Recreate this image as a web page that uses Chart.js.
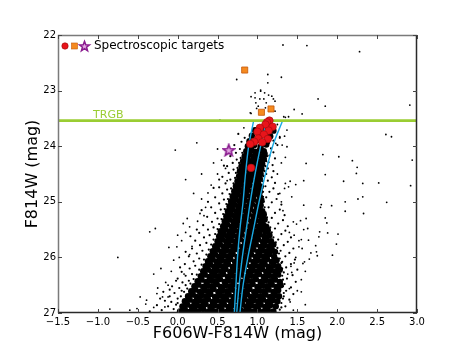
<!DOCTYPE html>
<html>
<head>
<meta charset="utf-8">
<script src="https://cdn.jsdelivr.net/npm/chart.js@4.4.0/dist/chart.umd.min.js"></script>
<style>
    body { margin: 0; background: #fff; }
    #wrap { width: 463px; height: 348px; }
</style>
</head>
<body>
<div id="wrap"><canvas id="myChart" width="463" height="348"></canvas></div>
<script>
// tick values
var x_ticks = [-1.5, -1.0, -0.5, 0.0, 0.5, 1.0, 1.5, 2.0, 2.5, 3.0];
var y_ticks = [22, 23, 24, 25, 26, 27];
var trgb_mag = 23.54;

// spectroscopic targets (colour, mag)
var rgb_targets = [[1.15, 23.54], [1.12, 23.57], [1.10, 23.61], [1.19, 23.65], [1.03, 23.67], [1.14, 23.72], [1.00, 23.74],
    [1.08, 23.79], [1.13, 23.87], [1.01, 23.86], [0.96, 23.92], [1.06, 23.93], [0.91, 23.96], [0.92, 24.39]];
var agb_targets = [[0.84, 22.63], [1.05, 23.39], [1.17, 23.33]];
var star_target = [[0.64, 24.07]];

// the three blue lines
var iso_mag = [27.0, 26.5, 26.0, 25.5, 25.0, 24.5, 24.0, 23.56];
var iso_1 = [0.71, 0.73, 0.75, 0.78, 0.82, 0.85, 0.89, 0.95];
var iso_2 = [0.74, 0.77, 0.81, 0.86, 0.91, 0.97, 1.04, 1.11];
var iso_3 = [0.78, 0.82, 0.88, 0.95, 1.02, 1.10, 1.19, 1.31];

// photometry: the dense part of the CMD
var core_stars = [
    [0.03,26.97],[0.09,26.94],[0.15,26.98],[0.21,26.95],[0.26,26.97],[0.32,26.93],[0.38,26.98],[0.43,26.95],[0.49,26.97],[0.55,26.94],[0.61,26.98],[0.66,26.95],[0.72,26.97],[0.78,26.93],[0.83,26.98],[0.89,26.95],[0.95,26.97],[1.01,26.94],[1.07,26.98],[1.13,26.95],[1.2,26.97],
    [0.06,26.88],[0.12,26.85],[0.18,26.89],[0.24,26.86],[0.29,26.88],[0.35,26.84],[0.41,26.89],[0.46,26.86],[0.52,26.88],[0.58,26.85],[0.64,26.89],[0.69,26.86],[0.75,26.88],[0.81,26.84],[0.86,26.89],[0.92,26.86],[0.98,26.88],[1.04,26.85],[1.1,26.89],[1.16,26.86],[1.23,26.88],
    [0.09,26.79],[0.15,26.76],[0.21,26.8],[0.27,26.77],[0.32,26.79],[0.38,26.75],[0.44,26.8],[0.49,26.77],[0.55,26.79],[0.61,26.76],[0.67,26.8],[0.72,26.77],[0.78,26.79],[0.84,26.75],[0.89,26.8],[0.95,26.77],[1.01,26.79],[1.07,26.76],[1.13,26.8],[1.19,26.77],[1.25,26.79],
    [0.13,26.7],[0.19,26.67],[0.24,26.71],[0.3,26.68],[0.36,26.7],[0.41,26.66],[0.47,26.71],[0.53,26.68],[0.58,26.7],[0.64,26.67],[0.7,26.71],[0.75,26.68],[0.81,26.7],[0.87,26.66],[0.92,26.71],[0.98,26.68],[1.04,26.7],[1.1,26.67],[1.16,26.71],[1.22,26.68],[1.27,26.7],
    [0.17,26.61],[0.22,26.58],[0.28,26.62],[0.34,26.59],[0.39,26.61],[0.45,26.57],[0.51,26.62],[0.56,26.59],[0.62,26.61],[0.68,26.58],[0.73,26.62],[0.79,26.59],[0.85,26.61],[0.9,26.57],[0.96,26.62],[1.02,26.59],[1.08,26.61],[1.14,26.58],[1.2,26.62],[1.26,26.59],
    [0.21,26.52],[0.26,26.49],[0.32,26.53],[0.37,26.5],[0.43,26.52],[0.49,26.48],[0.54,26.53],[0.6,26.5],[0.66,26.52],[0.71,26.49],[0.77,26.53],[0.83,26.5],[0.88,26.52],[0.94,26.48],[1.0,26.53],[1.06,26.5],[1.12,26.52],[1.18,26.49],[1.24,26.53],[1.29,26.5],
    [0.25,26.43],[0.3,26.4],[0.36,26.44],[0.42,26.41],[0.47,26.43],[0.53,26.39],[0.59,26.44],[0.64,26.41],[0.7,26.43],[0.76,26.4],[0.81,26.44],[0.87,26.41],[0.93,26.43],[0.98,26.39],[1.04,26.44],[1.1,26.41],[1.16,26.43],[1.22,26.4],[1.28,26.44],
    [0.29,26.34],[0.34,26.31],[0.4,26.35],[0.46,26.32],[0.51,26.34],[0.57,26.3],[0.63,26.35],[0.68,26.32],[0.74,26.34],[0.8,26.31],[0.85,26.35],[0.91,26.32],[0.97,26.34],[1.02,26.3],[1.08,26.35],[1.14,26.32],[1.2,26.34],[1.26,26.31],
    [0.32,26.25],[0.38,26.22],[0.43,26.26],[0.49,26.23],[0.55,26.25],[0.6,26.21],[0.66,26.26],[0.72,26.23],[0.77,26.25],[0.83,26.22],[0.89,26.26],[0.94,26.23],[1.0,26.25],[1.06,26.21],[1.11,26.26],[1.17,26.23],[1.23,26.25],[1.28,26.22],
    [0.35,26.16],[0.41,26.13],[0.46,26.17],[0.52,26.14],[0.58,26.16],[0.63,26.12],[0.69,26.17],[0.75,26.14],[0.8,26.16],[0.86,26.13],[0.92,26.17],[0.97,26.14],[1.03,26.16],[1.09,26.12],[1.14,26.17],[1.2,26.14],[1.26,26.16],
    [0.38,26.07],[0.44,26.04],[0.49,26.08],[0.55,26.05],[0.61,26.07],[0.66,26.03],[0.72,26.08],[0.78,26.05],[0.83,26.07],[0.89,26.04],[0.95,26.08],[1.0,26.05],[1.06,26.07],[1.12,26.03],[1.18,26.08],[1.24,26.05],
    [0.41,25.98],[0.47,25.95],[0.52,25.99],[0.58,25.96],[0.64,25.98],[0.69,25.94],[0.75,25.99],[0.81,25.96],[0.86,25.98],[0.92,25.95],[0.98,25.99],[1.03,25.96],[1.09,25.98],[1.15,25.94],[1.21,25.99],
    [0.44,25.89],[0.5,25.86],[0.55,25.9],[0.61,25.87],[0.67,25.89],[0.72,25.85],[0.78,25.9],[0.84,25.87],[0.89,25.89],[0.95,25.86],[1.01,25.9],[1.06,25.87],[1.12,25.89],[1.18,25.86],[1.22,25.9],
    [0.47,25.8],[0.53,25.77],[0.58,25.81],[0.64,25.78],[0.7,25.8],[0.75,25.76],[0.81,25.81],[0.87,25.78],[0.92,25.8],[0.98,25.77],[1.04,25.81],[1.09,25.78],[1.15,25.8],[1.2,25.77],
    [0.5,25.71],[0.56,25.68],[0.61,25.72],[0.67,25.69],[0.73,25.71],[0.78,25.67],[0.84,25.72],[0.9,25.69],[0.95,25.71],[1.01,25.68],[1.07,25.72],[1.12,25.69],[1.17,25.71],
    [0.52,25.62],[0.58,25.59],[0.63,25.63],[0.69,25.6],[0.75,25.62],[0.8,25.58],[0.86,25.63],[0.92,25.6],[0.97,25.62],[1.03,25.59],[1.09,25.63],[1.15,25.6],
    [0.54,25.53],[0.6,25.5],[0.65,25.54],[0.71,25.51],[0.77,25.53],[0.82,25.49],[0.88,25.54],[0.94,25.51],[0.99,25.53],[1.05,25.5],[1.1,25.54],[1.13,25.51],
    [0.57,25.44],[0.62,25.41],[0.68,25.45],[0.74,25.42],[0.79,25.44],[0.85,25.4],[0.91,25.45],[0.96,25.42],[1.02,25.44],[1.07,25.41],[1.11,25.45],
    [0.59,25.35],[0.65,25.32],[0.7,25.36],[0.76,25.33],[0.82,25.35],[0.87,25.31],[0.93,25.36],[0.98,25.33],[1.04,25.35],[1.09,25.32],
    [0.61,25.26],[0.67,25.23],[0.72,25.27],[0.78,25.24],[0.84,25.26],[0.89,25.22],[0.95,25.27],[1.0,25.24],[1.05,25.26],[1.08,25.23],
    [0.63,25.17],[0.69,25.14],[0.74,25.18],[0.8,25.15],[0.86,25.17],[0.91,25.13],[0.97,25.18],[1.02,25.15],[1.06,25.17],
    [0.65,25.08],[0.71,25.05],[0.76,25.09],[0.82,25.06],[0.88,25.08],[0.93,25.04],[0.99,25.09],[1.04,25.06],
    [0.67,24.99],[0.73,24.96],[0.78,25.0],[0.84,24.97],[0.9,24.99],[0.95,24.95],[1.01,25.0],[1.05,24.97],
    [0.69,24.9],[0.75,24.87],[0.8,24.91],[0.86,24.88],[0.92,24.9],[0.97,24.86],[1.03,24.91],
    [0.71,24.81],[0.77,24.78],[0.82,24.82],[0.88,24.79],[0.94,24.81],[0.99,24.77],[1.03,24.82],
    [0.73,24.72],[0.79,24.69],[0.84,24.73],[0.9,24.7],[0.96,24.72],[1.01,24.68],[1.04,24.73],
    [0.75,24.63],[0.81,24.6],[0.86,24.64],[0.92,24.61],[0.98,24.63],[1.03,24.59],
    [0.77,24.54],[0.83,24.51],[0.88,24.55],[0.94,24.52],[1.0,24.54],[1.04,24.5],
    [0.78,24.45],[0.84,24.42],[0.9,24.46],[0.95,24.43],[1.01,24.45],[1.05,24.41],
    [0.8,24.36],[0.86,24.33],[0.91,24.37],[0.97,24.34],[1.02,24.36],[1.06,24.32],
    [0.82,24.27],[0.88,24.24],[0.93,24.28],[0.99,24.25],[1.04,24.27],[1.08,24.23],
    [0.84,24.18],[0.9,24.15],[0.95,24.19],[1.01,24.16],[1.06,24.18],[1.09,24.14],
    [0.86,24.09],[0.92,24.06],[0.97,24.1],[1.03,24.07],[1.08,24.09],
    [0.88,24.0],[0.96,23.98],[1.04,24.01],[1.11,23.97],
    [0.9,23.91],[1.0,23.89],[1.12,23.92],
    [0.93,23.81],[1.05,23.79],[1.16,23.82],
    [0.97,23.71],[1.1,23.69],[1.2,23.72]
];

// photometry: fuzzy edges of the dense part
var edge_stars = [
    [-0.05,26.93],[-0.12,26.88],[-0.2,26.95],[-0.08,26.8],[-0.02,26.85],[-0.16,26.78],[-0.26,26.86],[0.0,26.74],[-0.1,26.7],[-0.04,26.64],
    [0.05,26.6],[-0.18,26.62],[0.02,26.55],[0.1,26.5],[-0.07,26.52],[0.06,26.45],[0.14,26.42],[0.0,26.38],[0.1,26.33],[0.18,26.3],
    [0.05,26.26],[0.15,26.2],[0.22,26.15],[0.09,26.12],[0.2,26.07],[0.27,26.02],[0.14,25.98],[0.24,25.93],[0.31,25.88],[0.18,25.84],
    [0.28,25.78],[0.36,25.74],[0.22,25.7],[0.33,25.64],[0.4,25.6],[0.27,25.56],[0.38,25.5],[0.45,25.46],[0.32,25.42],[0.43,25.36],
    [0.5,25.3],[0.37,25.27],[0.47,25.2],[0.54,25.14],[0.42,25.1],[0.52,25.03],[0.58,24.96],[0.47,24.92],[0.56,24.85],[0.62,24.78],
    [0.52,24.74],[0.6,24.67],[0.66,24.6],[0.56,24.55],[0.64,24.48],[0.7,24.42],[0.62,24.36],[0.69,24.3],[0.74,24.24],[0.66,24.18],
    [0.73,24.12],[0.78,24.05],[0.71,23.98],[0.8,23.92],[0.84,23.85],[0.76,23.78],
    [0.0,26.82],[0.04,26.7],[0.08,26.62],[0.12,26.56],[0.16,26.47],[0.2,26.39],[0.24,26.31],[0.27,26.22],[0.3,26.13],[0.33,26.04],
    [0.36,25.95],[0.39,25.86],[0.42,25.77],[0.45,25.68],[0.47,25.58],[0.5,25.49],[0.52,25.4],[0.55,25.31],[0.57,25.22],[0.59,25.13],
    [0.61,25.04],[0.63,24.95],[0.65,24.86],[0.67,24.76],[0.7,24.67],[0.72,24.57],[0.73,24.48],[0.75,24.39],[0.77,24.3],[0.79,24.21],
    [0.81,24.12],[-0.35,26.97],[-0.22,26.74],[-0.1,26.58],[-0.02,26.42],[0.03,26.18],[0.1,25.9],[0.16,25.62],[0.24,25.5],[0.3,25.15],
    [0.38,25.0],[0.45,24.75],[0.52,24.6],[0.58,24.35],[0.64,24.02],
    [1.28,26.94],[1.35,26.88],[1.3,26.82],[1.4,26.76],[1.33,26.7],[1.45,26.66],[1.36,26.6],[1.42,26.54],[1.34,26.48],[1.48,26.44],
    [1.37,26.38],[1.44,26.32],[1.33,26.27],[1.5,26.22],[1.36,26.18],[1.42,26.12],[1.31,26.08],[1.47,26.04],[1.35,25.98],[1.4,25.92],
    [1.29,25.88],[1.45,25.84],[1.33,25.78],[1.38,25.72],[1.26,25.68],[1.42,25.64],[1.3,25.58],[1.35,25.52],[1.22,25.48],[1.38,25.44],
    [1.26,25.39],[1.32,25.33],[1.18,25.29],[1.34,25.24],[1.22,25.2],[1.28,25.14],[1.14,25.1],[1.3,25.05],[1.18,25.01],[1.24,24.95],
    [1.11,24.92],[1.26,24.86],[1.15,24.82],[1.2,24.76],[1.1,24.72],[1.22,24.66],[1.13,24.62],[1.18,24.56],[1.11,24.5],[1.2,24.45],
    [1.13,24.4],[1.19,24.34],[1.14,24.29],[1.22,24.22],[1.15,24.17],[1.2,24.11],[1.17,24.04],[1.25,23.98],[1.2,23.9],[1.28,23.85],
    [1.3,26.9],[1.32,26.74],[1.33,26.64],[1.32,26.52],[1.32,26.4],[1.31,26.33],[1.31,26.2],[1.3,26.1],[1.28,26.02],[1.27,25.93],
    [1.25,25.83],[1.23,25.73],[1.2,25.64],[1.18,25.55],[1.16,25.46],[1.14,25.37],[1.12,25.28],[1.1,25.19],[1.09,25.1],[1.08,25.0],
    [1.07,24.91],[1.07,24.82],[1.07,24.72],[1.07,24.63],[1.08,24.54],[1.09,24.45],[1.1,24.36],[1.11,24.27],[1.12,24.18]
];

// photometry: scattered field stars
var field_stars = [
    [-0.28,25.48],[-0.11,25.82],[-0.21,26.2],[-0.19,26.71],[-0.16,26.89],[0.2,24.85],[0.38,24.84],[0.28,25.21],[0.07,25.39],[0.12,25.3],
    [-0.01,25.81],[-0.05,26.05],[-0.26,26.65],[-0.39,26.77],[-0.4,26.84],[-0.51,26.92],[-0.12,26.71],[-0.75,26.0],[-0.47,26.71],[-0.35,25.54],
    [0.24,23.94],[-0.03,24.07],[0.53,23.53],[0.3,24.5],[0.45,24.3],[0.1,24.6],[0.0,25.6],[-0.3,26.3],[0.15,25.95],[-0.6,26.95],
    [-0.85,26.93],[0.5,24.05],[0.62,24.62],[0.35,25.1],[-0.15,26.45],[0.05,25.7],[0.1,25.55],[0.15,25.45],[0.02,26.0],[-0.08,26.25],
    [0.08,26.3],[-0.12,26.5],[-0.25,26.55],[-0.3,26.9],[0.18,25.8],[0.25,25.35],[0.33,25.25],[0.3,24.95],[0.42,24.7],[0.5,24.5],
    [0.55,24.25],[0.6,24.4],
    [1.34,23.82],[1.31,23.98],[1.82,24.15],[2.02,24.19],[2.19,24.26],[1.61,24.31],[2.25,24.38],[2.24,24.49],[1.85,24.51],[2.32,24.67],
    [2.52,24.66],[2.92,24.71],[2.08,24.63],[1.58,24.62],[1.48,24.69],[1.41,24.63],[1.35,24.67],[1.39,24.73],[1.34,24.76],[1.43,24.91],
    [2.32,24.91],[2.26,24.95],[2.1,25.0],[2.62,25.01],[1.58,25.06],[1.8,25.05],[1.79,25.1],[1.93,25.07],[2.1,25.17],[2.33,25.21],
    [1.32,25.16],[1.85,25.29],[1.61,25.3],[1.87,25.38],[1.54,25.34],[1.49,25.4],[1.45,25.36],[1.63,25.48],[1.58,25.5],[1.78,25.54],
    [1.88,25.56],[2.01,25.58],[1.77,25.63],[1.46,25.6],[1.64,25.69],[1.55,25.68],[1.99,25.76],[1.73,25.79],[1.52,25.81],[1.56,25.84],
    [1.74,25.9],[1.67,25.92],[1.75,25.97],[1.94,25.96],[1.65,26.03],[1.59,26.08],[1.57,26.11],[1.46,26.1],[1.42,26.16],[1.43,26.27],
    [1.4,26.56],[1.41,26.8],[1.55,26.62],[1.55,26.4],[1.6,26.25],[1.5,26.6],[1.45,26.95],[1.6,26.85],[1.38,26.3],[1.48,26.0],
    [1.52,25.7],[1.4,25.55],[1.3,25.0],[1.28,24.85],[1.25,24.5],[1.3,24.3],[1.35,24.2],
    [2.61,23.79],[2.68,23.83],[2.94,24.25],[2.91,23.26],[1.76,23.15],[1.85,23.28],[1.46,23.34],[1.56,23.42],[1.35,23.48],[1.39,23.47],
    [1.37,23.71],[1.25,23.61],[0.83,23.67],[1.28,23.83],[1.37,24.01],[1.23,23.95],
    [1.32,22.18],[1.62,22.19],[2.28,22.3],[0.74,22.8],[1.13,22.71],[1.13,22.86],[1.3,22.76],[1.04,23.01],[1.09,23.04],[1.14,23.08],
    [1.18,23.1],[0.92,23.11],[0.97,23.13],[1.08,23.15],[1.2,23.15],[1.22,23.19],[0.98,23.22],[1.11,23.22],[1.01,23.28],[1.1,23.31],
    [0.91,23.4],[0.99,23.32],[1.22,23.37],[1.33,23.47],[1.04,22.99],[0.97,23.04],[1.03,23.15],[0.92,23.41]
];

function pts(list) {
    return list.map(p => ({ x: p[0], y: p[1] }));
}

// 5 point star marker (matplotlib '*')
function draw_star(c, cx, cy, r, fill, stroke, lw) {
    c.beginPath();
    for (let i = 0; i < 10; i++) {
        let rad = (i % 2 == 0) ? r : r * 0.42;
        let a = -Math.PI / 2 + i * Math.PI / 5;
        let px = cx + rad * Math.cos(a);
        let py = cy + rad * Math.sin(a);
        if (i == 0) c.moveTo(px, py); else c.lineTo(px, py);
    }
    c.closePath();
    c.fillStyle = fill;
    c.fill();
    c.lineWidth = lw;
    c.strokeStyle = stroke;
    c.stroke();
}
var star_img = document.createElement('canvas');
star_img.width = 14;
star_img.height = 14;
draw_star(star_img.getContext('2d'), 7, 7.5, 6, '#e2a6e2', '#8a1b8f', 1.6);

var red = '#e8141b', red_edge = '#9c0b0b';
var orange = '#f58a1f', orange_edge = '#c4580a';
var green = '#9acd32';
var blue = '#1aa9e3';
var font_family = "'DejaVu Sans', sans-serif";

// frame, inward ticks, TRGB label and the legend
var cmd_extras = {
    id: 'cmd_extras',
    afterDraw: function (chart) {
        let c = chart.ctx;
        let a = chart.chartArea;
        let xs = chart.scales.x;
        let ys = chart.scales.y;
        c.save();
        // TRGB label
        c.fillStyle = green;
        c.font = "11px " + font_family;
        c.textAlign = 'left';
        c.textBaseline = 'alphabetic';
        c.fillText('TRGB', xs.getPixelForValue(-1.06), ys.getPixelForValue(trgb_mag) - 3);

        // frame
        c.lineWidth = 1.5;
        c.strokeStyle = '#7a7a7a';
        c.beginPath();
        c.moveTo(a.left + 0.5, a.bottom);
        c.lineTo(a.left + 0.5, a.top + 0.5);
        c.lineTo(a.right, a.top + 0.5);
        c.stroke();
        c.strokeStyle = '#2a2a2a';
        c.beginPath();
        c.moveTo(a.right - 0.5, a.top);
        c.lineTo(a.right - 0.5, a.bottom - 0.5);
        c.lineTo(a.left, a.bottom - 0.5);
        c.stroke();

        // ticks pointing inside, on all four sides
        c.lineWidth = 1;
        c.strokeStyle = '#444';
        c.beginPath();
        x_ticks.forEach(v => {
            let px = Math.round(xs.getPixelForValue(v)) + 0.5;
            c.moveTo(px, a.bottom); c.lineTo(px, a.bottom - 4);
            c.moveTo(px, a.top); c.lineTo(px, a.top + 4);
        });
        y_ticks.forEach(v => {
            let py = Math.round(ys.getPixelForValue(v)) + 0.5;
            c.moveTo(a.left, py); c.lineTo(a.left + 4, py);
            c.moveTo(a.right, py); c.lineTo(a.right - 4, py);
        });
        c.stroke();

        // legend: three markers then the text
        let ly = a.top + 11;
        c.beginPath();
        c.arc(a.left + 7, ly, 3.2, 0, Math.PI * 2);
        c.fillStyle = red;
        c.fill();
        c.lineWidth = 0.6;
        c.strokeStyle = red_edge;
        c.stroke();
        c.fillStyle = orange;
        c.fillRect(a.left + 13.5, ly - 3, 6, 6);
        c.strokeStyle = orange_edge;
        c.strokeRect(a.left + 13.5, ly - 3, 6, 6);
        draw_star(c, a.left + 26.5, ly + 0.5, 5.2, '#e2a6e2', '#8a1b8f', 1.5);
        c.fillStyle = '#000';
        c.font = "12px " + font_family;
        c.textBaseline = 'middle';
        c.fillText('Spectroscopic targets', a.left + 36, ly);
        c.restore();
    }
};

var ctx = document.getElementById('myChart');
var chart = new Chart(ctx, {
    type: 'scatter',
    data: {
        datasets: [
            {
                label: 'star target',
                data: pts(star_target),
                pointStyle: star_img,
                pointRadius: 7
            },
            {
                label: 'AGB targets',
                data: pts(agb_targets),
                pointStyle: 'rect',
                pointRadius: 4.3,
                backgroundColor: orange,
                borderColor: orange_edge,
                borderWidth: 0.8
            },
            {
                label: 'RGB targets',
                data: pts(rgb_targets),
                pointStyle: 'circle',
                pointRadius: 3.8,
                backgroundColor: red,
                borderColor: red_edge,
                borderWidth: 0.6
            },
            {
                label: 'TRGB',
                data: [{ x: x_ticks[0], y: trgb_mag }, { x: x_ticks[x_ticks.length - 1], y: trgb_mag }],
                showLine: true,
                pointRadius: 0,
                borderColor: green,
                borderWidth: 2.6
            },
            {
                label: 'iso 1',
                data: iso_mag.map((m, i) => ({ x: iso_1[i], y: m })),
                showLine: true, pointRadius: 0, tension: 0.3,
                borderColor: blue, borderWidth: 1.4
            },
            {
                label: 'iso 2',
                data: iso_mag.map((m, i) => ({ x: iso_2[i], y: m })),
                showLine: true, pointRadius: 0, tension: 0.3,
                borderColor: blue, borderWidth: 1.4
            },
            {
                label: 'iso 3',
                data: iso_mag.map((m, i) => ({ x: iso_3[i], y: m })),
                showLine: true, pointRadius: 0, tension: 0.3,
                borderColor: blue, borderWidth: 1.4
            },
            {
                label: 'field',
                data: pts(field_stars),
                pointRadius: 0.9,
                borderWidth: 0,
                backgroundColor: '#000'
            },
            {
                label: 'edge',
                data: pts(edge_stars),
                pointRadius: 1.1,
                borderWidth: 0,
                backgroundColor: '#000'
            },
            {
                label: 'core',
                data: pts(core_stars),
                pointRadius: 3.2,
                borderWidth: 0,
                backgroundColor: '#000'
            }
        ]
    },
    options: {
        responsive: false,
        animation: false,
        events: [],
        layout: { padding: { top: 35, right: 46, left: 0, bottom: 0 } },
        plugins: {
            legend: { display: false },
            tooltip: { enabled: false }
        },
        scales: {
            x: {
                type: 'linear',
                min: x_ticks[0],
                max: x_ticks[x_ticks.length - 1],
                grid: { display: false, drawTicks: false },
                border: { display: false },
                afterBuildTicks: s => { s.ticks = x_ticks.map(v => ({ value: v })); },
                afterFit: s => { s.height = 35; },
                ticks: {
                    color: '#000',
                    padding: 3,
                    maxRotation: 0,
                    autoSkip: false,
                    font: { family: font_family, size: 10 },
                    callback: v => v.toFixed(1).replace('-', '\u2212')
                },
                title: {
                    display: true,
                    text: 'F606W-F814W (mag)',
                    color: '#000',
                    font: { family: font_family, size: 16 },
                    padding: { top: 0, bottom: 5 }
                }
            },
            y: {
                type: 'linear',
                reverse: true,
                min: y_ticks[0],
                max: y_ticks[y_ticks.length - 1],
                grid: { display: false, drawTicks: false },
                border: { display: false },
                afterBuildTicks: s => { s.ticks = y_ticks.map(v => ({ value: v })); },
                afterFit: s => { s.width = 58; },
                ticks: {
                    color: '#000',
                    padding: 2,
                    font: { family: font_family, size: 10 },
                    callback: v => String(v)
                },
                title: {
                    display: true,
                    text: 'F814W (mag)',
                    color: '#000',
                    font: { family: font_family, size: 16 },
                    padding: { top: 23, bottom: 0 }
                }
            }
        }
    },
    plugins: [cmd_extras]
});
</script>
</body>
</html>
